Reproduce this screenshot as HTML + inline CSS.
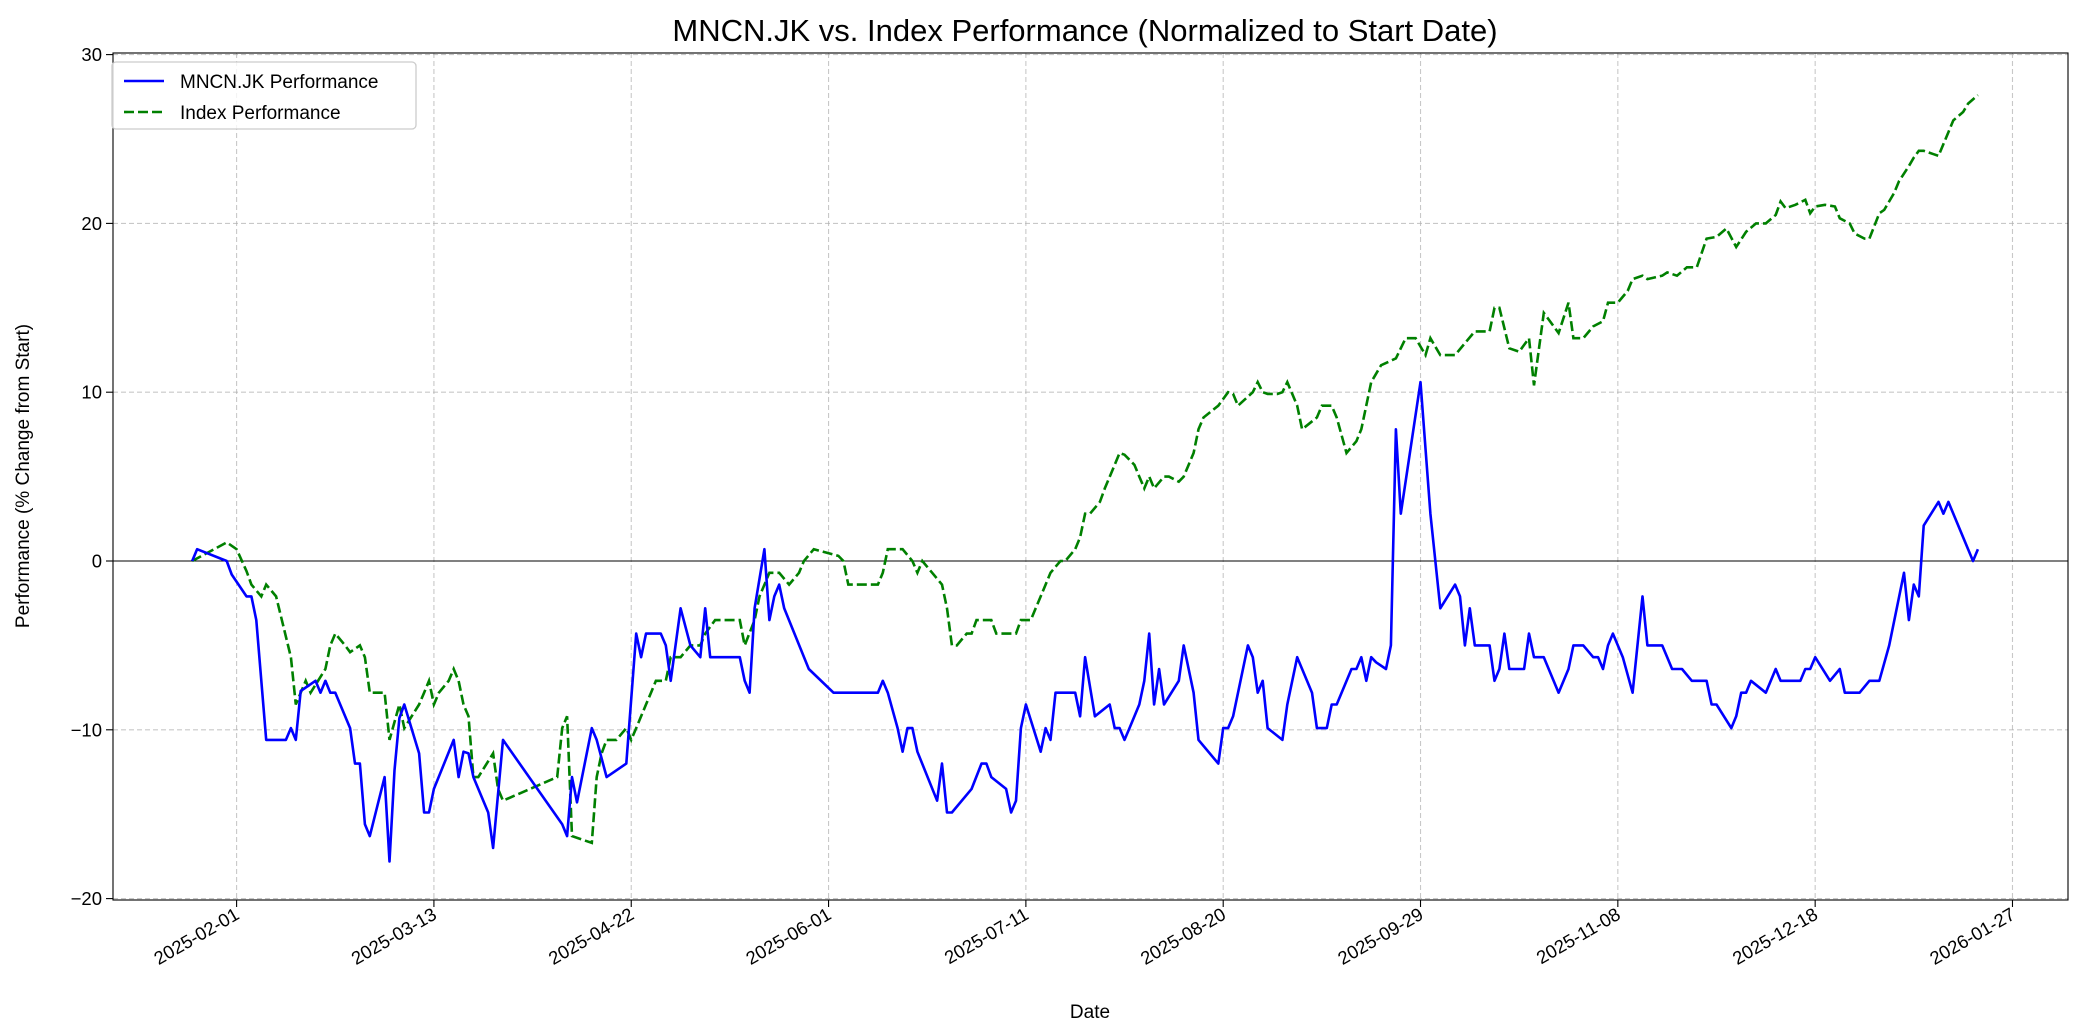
<!DOCTYPE html>
<html><head><meta charset="utf-8"><style>
html,body{margin:0;padding:0;background:#fff;}
svg{display:block;font-family:"Liberation Sans","DejaVu Sans",sans-serif;}
</style></head><body>
<svg id="chart" width="2084" height="1035" viewBox="0 0 2084 1035" xmlns="http://www.w3.org/2000/svg">
<rect width="2084" height="1035" fill="#fff"/>
<text x="1085" y="41" font-size="31" text-anchor="middle" fill="#000">MNCN.JK vs. Index Performance (Normalized to Start Date)</text>
<g id="grid"></g>
<g id="series"></g>
<g id="axes"></g>
<text x="1090" y="1018" font-size="19" text-anchor="middle">Date</text>
<text transform="translate(29,476) rotate(-90)" font-size="19" text-anchor="middle">Performance (% Change from Start)</text>
<g>
<rect x="112" y="62" width="304" height="67" rx="4" fill="#fff" fill-opacity="0.8" stroke="#ccc" stroke-width="1.3"/>
<g>
<line x1="124" y1="81" x2="164" y2="81" stroke="#0000ff" stroke-width="2.6"/>
<text x="180" y="88" font-size="19">MNCN.JK Performance</text></g>
<g>
<line x1="124" y1="112" x2="164" y2="112" stroke="#008000" stroke-width="2.6" stroke-dasharray="10,4"/>
<text x="180" y="119" font-size="19">Index Performance</text></g>
</g>
</svg>
<script>
const tickDays = [0,40,80,120,160,200,240,280,320,360];
const tickLabels = ["2025-02-01","2025-03-13","2025-04-22","2025-06-01","2025-07-11","2025-08-20","2025-09-29","2025-11-08","2025-12-18","2026-01-27"];
const yTicks = [-20,-10,0,10,20,30];
const mncnDays = [-9,-8,-2,-1,2,3,4,6,10,11,12,13,16,17,18,19,20,23,24,25,26,27,30,31,32,33,34,37,38,39,40,44,45,46,47,48,51,52,54,66,67,68,69,72,73,75,79,81,82,83,86,87,88,90,92,94,95,96,102,103,104,105,107,108,109,110,111,116,121,130,131,132,134,135,136,137,138,142,143,144,145,149,151,152,153,156,157,158,159,160,163,164,165,166,170,171,172,174,177,178,179,180,181,183,184,185,186,187,188,191,192,194,195,199,200,201,202,205,206,207,208,209,212,213,215,218,219,221,222,223,226,227,228,229,230,231,233,234,235,236,240,242,244,247,248,249,250,251,254,255,256,257,258,261,262,263,265,268,270,271,273,275,276,277,278,279,281,283,285,286,289,290,291,293,295,298,299,300,303,304,305,306,307,310,312,313,317,318,319,320,323,325,326,327,329,331,333,335,338,339,340,341,342,345,346,347,352,353];
const mncnValues = [0,0.7,0,-0.8,-2.1,-2.1,-3.5,-10.6,-10.6,-9.9,-10.6,-7.7,-7.1,-7.8,-7.1,-7.8,-7.8,-9.9,-12,-12,-15.6,-16.3,-12.8,-17.8,-12.4,-9.3,-8.5,-11.4,-14.9,-14.9,-13.5,-10.6,-12.8,-11.3,-11.4,-12.8,-14.9,-17,-10.6,-15.6,-16.3,-12.8,-14.3,-9.9,-10.6,-12.8,-12,-4.3,-5.7,-4.3,-4.3,-5,-7.1,-2.8,-5,-5.7,-2.8,-5.7,-5.7,-7.1,-7.8,-2.8,0.7,-3.5,-2.1,-1.4,-2.8,-6.4,-7.8,-7.8,-7.1,-7.8,-9.9,-11.3,-9.9,-9.9,-11.3,-14.2,-12,-14.9,-14.9,-13.5,-12,-12,-12.8,-13.5,-14.9,-14.2,-9.9,-8.5,-11.3,-9.9,-10.6,-7.8,-7.8,-9.2,-5.7,-9.2,-8.5,-9.9,-9.9,-10.6,-9.9,-8.5,-7.1,-4.3,-8.5,-6.4,-8.5,-7.1,-5,-7.8,-10.6,-12,-9.9,-9.9,-9.2,-5,-5.7,-7.8,-7.1,-9.9,-10.6,-8.5,-5.7,-7.8,-9.9,-9.9,-8.5,-8.5,-6.4,-6.4,-5.7,-7.1,-5.7,-6,-6.4,-5,7.8,2.8,10.6,2.8,-2.8,-1.4,-2.1,-5,-2.8,-5,-5,-7.1,-6.4,-4.3,-6.4,-6.4,-4.3,-5.7,-5.7,-7.8,-6.4,-5,-5,-5.7,-5.7,-6.4,-5,-4.3,-5.7,-7.8,-2.1,-5,-5,-5.7,-6.4,-6.4,-7.1,-7.1,-8.5,-8.5,-9.9,-9.2,-7.8,-7.8,-7.1,-7.8,-6.4,-7.1,-7.1,-6.4,-6.4,-5.7,-7.1,-6.4,-7.8,-7.8,-7.8,-7.1,-7.1,-5,-0.7,-3.5,-1.4,-2.1,2.1,3.5,2.8,3.5,0,0.7];
const indexDays = [-9,-2,0,2,3,5,6,8,11,12,14,15,18,19,20,22,23,25,26,27,30,31,33,34,37,38,39,40,41,43,44,45,46,47,48,49,52,53,54,65,66,67,68,72,73,74,75,77,79,80,81,83,84,85,87,88,90,92,94,95,97,98,102,103,105,106,108,110,112,114,115,117,122,123,124,125,130,131,132,135,137,138,139,141,143,144,145,146,148,149,150,151,153,154,156,157,158,159,161,162,163,165,167,168,170,171,172,173,175,176,178,179,180,182,183,184,185,186,188,189,191,192,194,195,196,199,201,202,203,206,207,208,209,211,212,213,215,216,219,220,222,223,225,227,228,230,232,235,237,239,241,242,244,247,249,251,254,255,256,258,260,262,263,265,266,268,270,271,273,275,277,278,280,282,283,285,286,289,290,292,294,296,298,300,302,304,306,308,310,312,313,314,316,318,319,320,322,324,325,327,328,330,331,333,334,336,337,339,340,341,342,344,345,347,348,350,351,353];
const indexValues = [0,1.1,0.7,-0.6,-1.4,-2.1,-1.4,-2.1,-5.7,-8.5,-7.1,-7.8,-6.4,-5,-4.3,-5,-5.4,-5,-5.7,-7.8,-7.8,-10.6,-8.5,-9.9,-8.5,-7.8,-7.1,-8.5,-7.8,-7.1,-6.4,-7.1,-8.5,-9.2,-12.8,-12.8,-11.4,-13.5,-14.2,-12.8,-9.9,-9.2,-16.3,-16.7,-12.8,-11.4,-10.6,-10.6,-9.9,-10.6,-9.9,-8.5,-7.8,-7.1,-7.1,-5.7,-5.7,-5,-5,-4.3,-3.5,-3.5,-3.5,-5,-3.5,-2.1,-0.7,-0.7,-1.4,-0.7,0,0.7,0.3,0,-1.4,-1.4,-1.4,-0.7,0.7,0.7,0,-0.7,0,-0.7,-1.4,-2.8,-5,-5,-4.3,-4.3,-3.5,-3.5,-3.5,-4.3,-4.3,-4.3,-4.3,-3.5,-3.5,-2.8,-2.1,-0.7,0,0,0.7,1.4,2.8,2.8,3.5,4.3,5.7,6.4,6.3,5.7,5,4.3,5,4.3,5,5,4.7,5,6.4,7.8,8.5,9.2,10,9.9,9.2,10,10.6,10,9.9,9.9,10,10.6,9.2,7.8,8.5,9.2,9.2,8.5,6.4,7.1,7.8,10.6,11.6,12,13.2,13.2,12.2,13.2,12.2,12.2,12.9,13.6,13.6,15,15,12.6,12.4,13.2,10.4,14.7,14.3,13.5,15.3,13.2,13.2,13.9,14.2,15.3,15.3,16,16.7,16.9,16.7,16.9,17.1,16.9,17.4,17.4,19.1,19.2,19.7,18.6,19.5,20,20,20.5,21.3,20.9,21.1,21.4,20.6,21,21.1,21,20.3,20,19.4,19.1,19.1,20.6,20.8,21.8,22.5,23.4,23.9,24.3,24.3,24.1,24,25.4,26.1,26.6,27.1,27.6];

const L=113,R=2068,T=53,B=900;
function xs(d){return 236.6+d*4.933;}
function ys(v){return 561-v*16.88;}
const NS="http://www.w3.org/2000/svg";
function mk(tag,attrs,parent){const e=document.createElementNS(NS,tag);for(const k in attrs)e.setAttribute(k,attrs[k]);parent.appendChild(e);return e;}
const grid=document.getElementById('grid'),series=document.getElementById('series'),axes=document.getElementById('axes');
tickDays.forEach((d,i)=>{
  const x=xs(d);
  const g=mk('line',{x1:x,x2:x,y1:T,y2:B,stroke:'#b0b0b0','stroke-opacity':0.7,'stroke-width':1.1,'stroke-dasharray':'5,3'},grid);
  
  
  const t=mk('line',{x1:x,x2:x,y1:B,y2:B+7,stroke:'#000','stroke-width':1.1},axes);
  
  
  const lb=mk('text',{transform:`translate(${x+4},${B+18}) rotate(-30)`,'text-anchor':'end','font-size':18.5},axes);
  lb.textContent=tickLabels[i];
  
  
});
yTicks.forEach(v=>{
  const y=ys(v);
  const g=mk('line',{x1:L,x2:R,y1:y,y2:y,stroke:'#b0b0b0','stroke-opacity':0.7,'stroke-width':1.1,'stroke-dasharray':'5,3'},grid);
  
  
  const t=mk('line',{x1:L-7,x2:L,y1:y,y2:y,stroke:'#000','stroke-width':1.1},axes);
  
  
  const lb=mk('text',{x:L-11,y:y+6.5,'text-anchor':'end','font-size':18.5},axes);
  lb.textContent=v<0?'\u2212'+Math.abs(v):String(v);
  
  
});
const zl=mk('line',{x1:L,x2:R,y1:ys(0),y2:ys(0),stroke:'#000','stroke-width':1},series);


function path(days,vals){return days.map((d,i)=>(i?'L':'M')+xs(d).toFixed(1)+','+ys(vals[i]).toFixed(1)).join('');}
const gi=mk('path',{d:path(indexDays,indexValues),fill:'none',stroke:'#008000','stroke-width':2.6,'stroke-dasharray':'10,4'},series);


const bm=mk('path',{d:path(mncnDays,mncnValues),fill:'none',stroke:'#0000ff','stroke-width':2.6,'stroke-linejoin':'round'},series);


const fr=mk('rect',{x:L,y:T,width:R-L,height:B-T,fill:'none',stroke:'#000','stroke-width':1.1},axes);


</script>
</body></html>
